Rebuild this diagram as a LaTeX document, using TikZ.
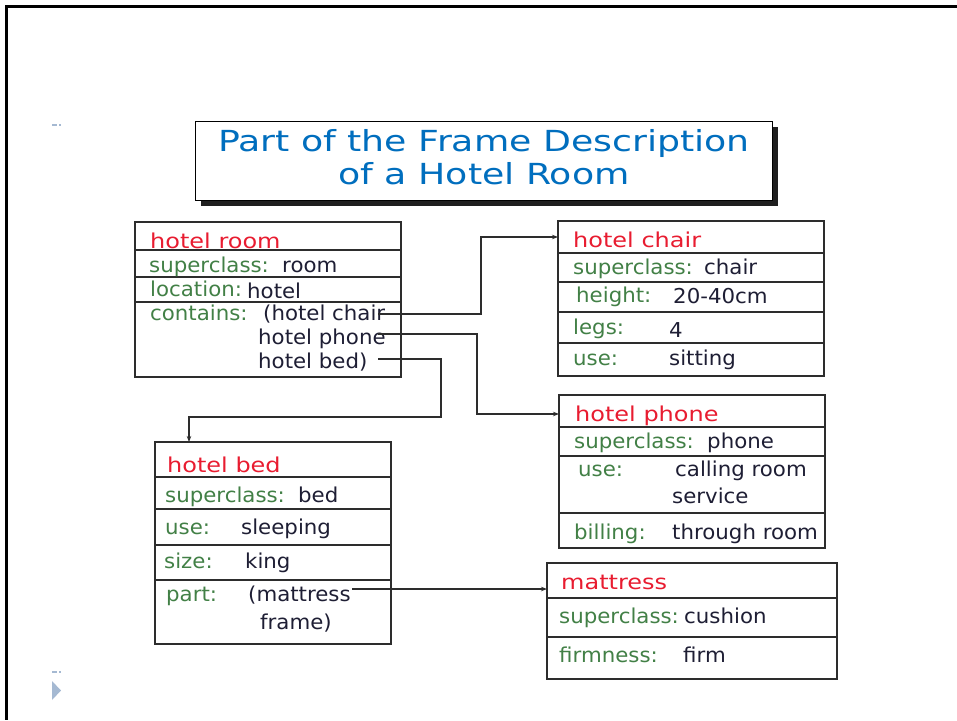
\documentclass[tikz,border=0pt]{standalone}
\usepackage{fontspec}
\setmainfont{DejaVu Sans}[FakeStretch=1.04]
\newfontfamily\headfont{DejaVu Sans}[FakeStretch=1.17]
\newfontfamily\titlefont{DejaVu Sans}[FakeStretch=1.25]
\usetikzlibrary{arrows.meta,shadows}

\definecolor{hdrred}{RGB}{232,28,48}
\definecolor{slotgreen}{RGB}{66,128,70}
\definecolor{valink}{RGB}{30,30,52}
\definecolor{titleblue}{RGB}{0,110,190}
\definecolor{boxline}{RGB}{45,45,45}
\definecolor{markc}{RGB}{165,185,210}

\begin{document}
\begin{tikzpicture}[x=1pt,y=-1pt,
  framebox/.style={draw=boxline, line width=1.2pt, anchor=north west,
    inner sep=0pt, outer sep=0pt},
  sep/.style={draw=boxline, line width=1.2pt},
  hdr/.style={anchor=base west, inner sep=0pt, text=hdrred,
    font=\headfont\fontsize{20.5}{24}\selectfont},
  lab/.style={anchor=base west, inner sep=0pt, text=slotgreen,
    font=\fontsize{20.5}{24}\selectfont},
  val/.style={anchor=base west, inner sep=0pt, text=valink,
    font=\fontsize{20.5}{24}\selectfont},
  ttl/.style={anchor=base, inner sep=0pt, text=titleblue,
    font=\titlefont\fontsize{29}{33}\selectfont},
  link/.style={draw=boxline, line width=1.1pt,
    -{Stealth[length=6pt,width=4.5pt]}}]

\useasboundingbox (0,0) rectangle (957,720);

% slide frame
\draw[line width=3pt] (957,6) -- (6,6) -- (6,720);

% bullet marks on the left margin
\fill[markc] (52,124.3) rectangle (57,125.8);
\fill[markc] (59,124.3) rectangle (60.5,125.8);
\fill[markc] (52,671.3) rectangle (57,672.8);
\fill[markc] (59,671.3) rectangle (60.5,672.8);
\fill[markc] (52,681) -- (61,690.5) -- (52,700) -- cycle;

% title panel
\node[framebox, draw=black, line width=1pt, fill=white,
  minimum width=577pt, minimum height=79pt,
  drop shadow={shadow xshift=6pt, shadow yshift=-6pt, fill=black!88, opacity=1}]
  (title) at (195,121) {};
\node[ttl] (title-a) at (484,151) {Part of the Frame Description};
\node[ttl] (title-b) at (484,184.5) {of a Hotel Room};

% frame: hotel room
\node[framebox, minimum width=266pt, minimum height=155pt] (hr) at (135,222) {};
\foreach \yy in {250,277,302} \draw[sep] (hr.west |- 0,\yy) -- (hr.east |- 0,\yy);
\node[hdr] (hr-t) at (150,248) {hotel room};
\node[lab] (hr-l1) at (149,272) {superclass:};
\node[val] (hr-v1) at (282,272) {room};
\node[lab] (hr-l2) at (150,296) {location:};
\node[val] (hr-v2) at (247,298) {hotel};
\node[lab] (hr-l3) at (150,320) {contains:};
\node[val] (hr-v3) at (263,320) {(hotel chair};
\node[val] (hr-v4) at (258,344) {hotel phone};
\node[val] (hr-v5) at (258,368) {hotel bed)};

% frame: hotel chair
\node[framebox, minimum width=266pt, minimum height=155pt] (hc) at (558,221) {};
\foreach \yy in {253,282,312,343} \draw[sep] (hc.west |- 0,\yy) -- (hc.east |- 0,\yy);
\node[hdr] (hc-t) at (573,247) {hotel chair};
\node[lab] (hc-l1) at (573,274) {superclass:};
\node[val] (hc-v1) at (704,274) {chair};
\node[lab] (hc-l2) at (576,302) {height:};
\node[val] (hc-v2) at (673,303) {20-40cm};
\node[lab] (hc-l3) at (573,334) {legs:};
\node[val] (hc-v3) at (669,337) {4};
\node[lab] (hc-l4) at (573,365) {use:};
\node[val] (hc-v4) at (669,365) {sitting};

% frame: hotel phone
\node[framebox, minimum width=266pt, minimum height=153pt] (hp) at (559,395) {};
\foreach \yy in {427,456,513} \draw[sep] (hp.west |- 0,\yy) -- (hp.east |- 0,\yy);
\node[hdr] (hp-t) at (575,421) {hotel phone};
\node[lab] (hp-l1) at (574,448) {superclass:};
\node[val] (hp-v1) at (707,448) {phone};
\node[lab] (hp-l2) at (578,476) {use:};
\node[val] (hp-v2) at (675,476) {calling room};
\node[val] (hp-v3) at (672,503) {service};
\node[lab] (hp-l3) at (574,539.5) {billing:};
\node[val] (hp-v4) at (672,539.5) {through room};

% frame: hotel bed
\node[framebox, minimum width=236pt, minimum height=202pt] (hb) at (155,442) {};
\foreach \yy in {477,509,545,580} \draw[sep] (hb.west |- 0,\yy) -- (hb.east |- 0,\yy);
\node[hdr] (hb-t) at (167,472) {hotel bed};
\node[lab] (hb-l1) at (165,502) {superclass:};
\node[val] (hb-v1) at (298,502) {bed};
\node[lab] (hb-l2) at (165,534) {use:};
\node[val] (hb-v2) at (241,534) {sleeping};
\node[lab] (hb-l3) at (164,568) {size:};
\node[val] (hb-v3) at (245,568) {king};
\node[lab] (hb-l4) at (166,601) {part:};
\node[val] (hb-v4) at (248,601) {(mattress};
\node[val] (hb-v5) at (260,629) {frame)};

% frame: mattress
\node[framebox, minimum width=290pt, minimum height=116pt] (mt) at (547,563) {};
\foreach \yy in {598,637} \draw[sep] (mt.west |- 0,\yy) -- (mt.east |- 0,\yy);
\node[hdr] (mt-t) at (561,589) {mattress};
\node[lab] (mt-l1) at (559,623) {superclass:};
\node[val] (mt-v1) at (684,623) {cushion};
\node[lab] (mt-l2) at (559,662) {firmness:};
\node[val] (mt-v2) at (683,662) {firm};

% slot links
\coordinate (chairOut) at (378,314);
\coordinate (chairBend) at (481,237);
\coordinate (phoneOut) at (378,334);
\coordinate (phoneBend) at (477,414);
\coordinate (bedOut) at (378,359);
\coordinate (bedBend) at (441,417);
\coordinate (bedIn) at (189,442);
\coordinate (mattOut) at (352,589);

\draw[link] (chairOut) -| (chairBend) -- (chairBend -| hc.west);
\draw[link] (phoneOut) -| (phoneBend) -- (phoneBend -| hp.west);
\draw[link] (bedOut) -| (bedBend) -| (bedIn);
\draw[link] (mattOut) -- (mattOut -| mt.west);

\end{tikzpicture}
\end{document}
